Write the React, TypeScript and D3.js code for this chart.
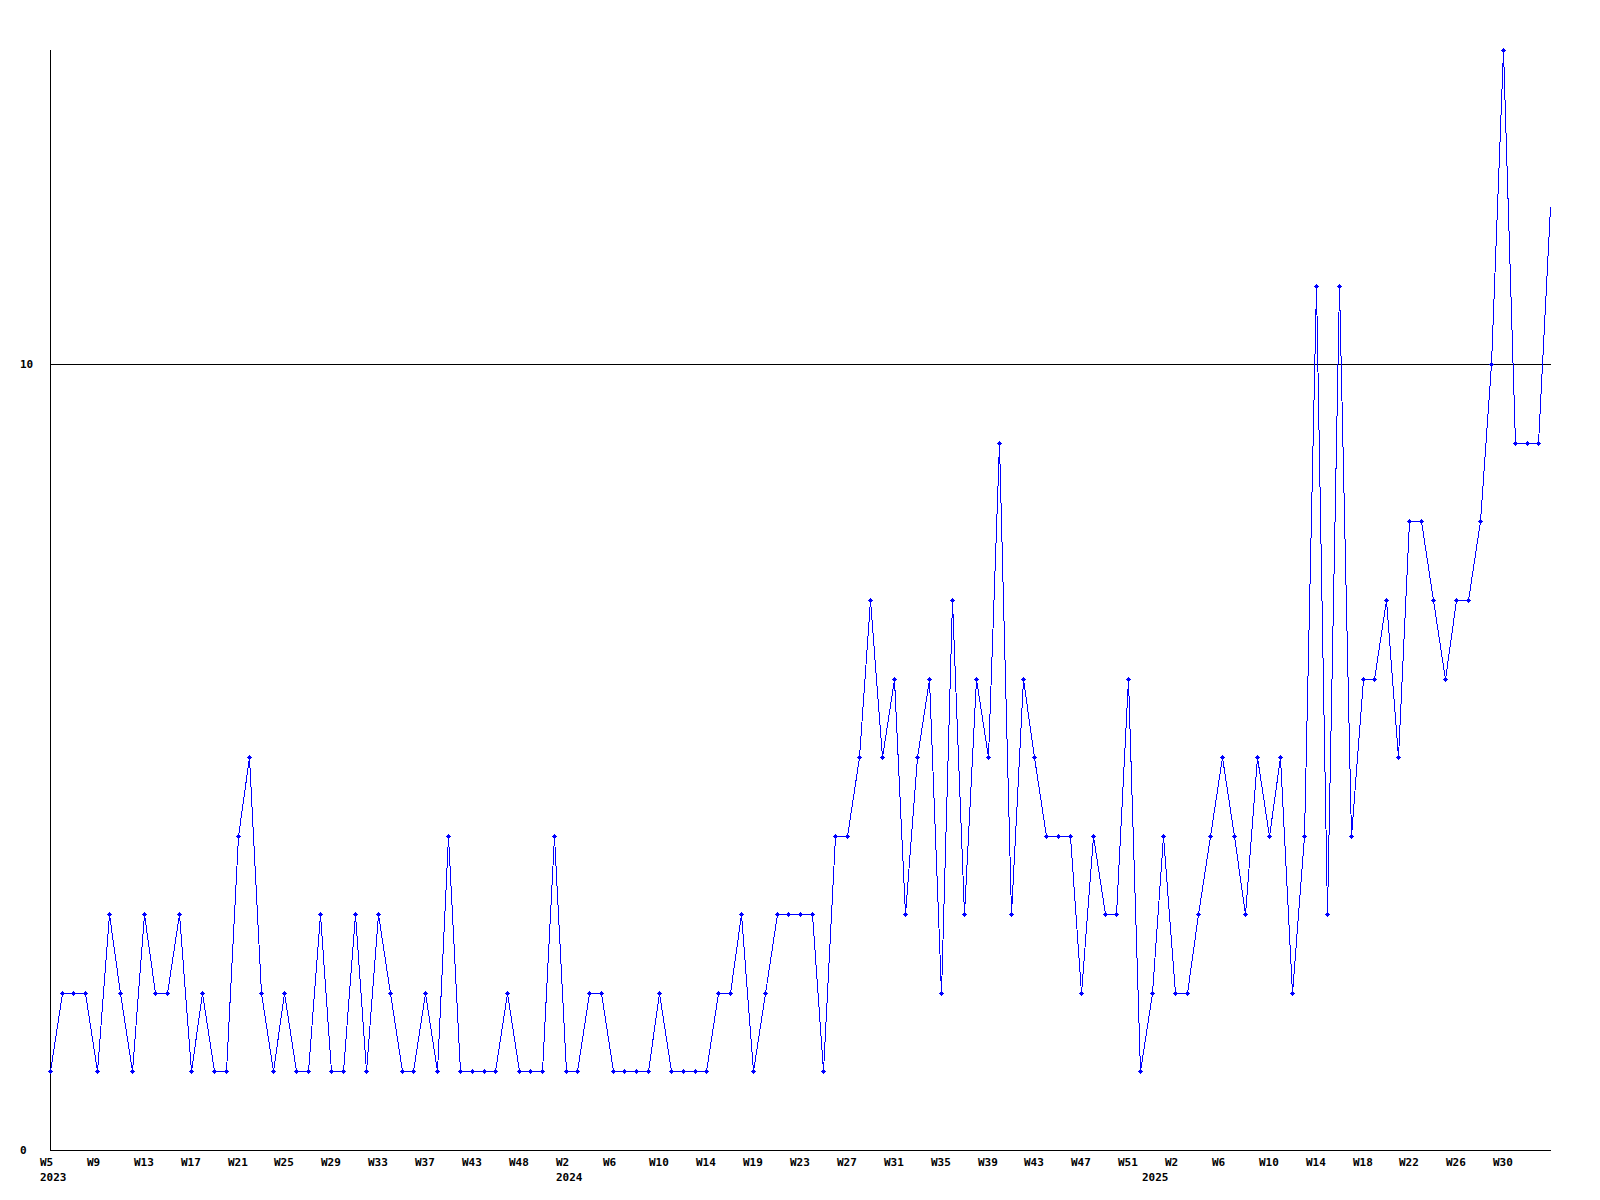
import React from "react";
import * as d3 from "d3";

// Weekly values, W5 2023 .. W34 2025 (129 points)
const values: number[] = [
  1, 2, 2, 2, 1, 3, 2, 1, 3, 2, 2, 3, 1, 2, 1, 1, 4, 5, 2, 1,
  2, 1, 1, 3, 1, 1, 3, 1, 3, 2, 1, 1, 2, 1, 4, 1, 1, 1, 1, 2,
  1, 1, 1, 4, 1, 1, 2, 2, 1, 1, 1, 1, 2, 1, 1, 1, 1, 2, 2, 3,
  1, 2, 3, 3, 3, 3, 1, 4, 4, 5, 7, 5, 6, 3, 5, 6, 2, 7, 3, 6,
  5, 9, 3, 6, 5, 4, 4, 4, 2, 4, 3, 3, 6, 1, 2, 4, 2, 2, 3, 4,
  5, 4, 3, 5, 4, 5, 2, 4, 11, 3, 11, 4, 6, 6, 7, 5, 8, 8, 7, 6,
  7, 7, 8, 10, 14, 9, 9, 9, 12,
];

// Tick labels, one every 4 points
const weekLabels: string[] = [
  "W5", "W9", "W13", "W17", "W21", "W25", "W29", "W33", "W37", "W43", "W48",
  "W2", "W6", "W10", "W14", "W19", "W23", "W27", "W31", "W35", "W39", "W43", "W47", "W51",
  "W2", "W6", "W10", "W14", "W18", "W22", "W26", "W30",
];
const tickStep = 4;

const yearLabels: { index: number; label: string }[] = [
  { index: 0, label: "2023" },
  { index: 44, label: "2024" },
  { index: 94, label: "2025" },
];

const yTicks: number[] = [0, 10];
const yMax = 14;

const W = 1600;
const H = 1200;
const left = 50;
const right = 1550;
const top = 50;
const bottom = 1150;

const font = "'DejaVu Sans Mono', 'Liberation Mono', monospace";

export default function App() {
  const x = d3.scaleLinear().domain([0, values.length - 1]).range([left, right]);
  const y = d3.scaleLinear().domain([0, yMax]).range([bottom, top]);

  const line = d3
    .line<number>()
    .x((_, i) => Math.round(x(i)) + 0.5)
    .y((d) => Math.round(y(d)) + 0.5);

  const px = (i: number) => Math.round(x(i));
  const py = (v: number) => Math.round(y(v));

  return (
    <svg
      width={W}
      height={H}
      style={{ position: "absolute", left: 0, top: 0, background: "#fff" }}
      fontFamily={font}
    >
      <rect x={0} y={0} width={W} height={H} fill="#fff" />
      {/* gridlines */}
      {yTicks
        .filter((t) => t > 0)
        .map((t) => (
          <line
            key={"g" + t}
            x1={left}
            x2={right + 1}
            y1={py(t) + 0.5}
            y2={py(t) + 0.5}
            stroke="#000"
            strokeWidth={1}
            shapeRendering="crispEdges"
          />
        ))}
      {/* axes */}
      <line x1={left + 0.5} x2={left + 0.5} y1={top} y2={bottom + 1} stroke="#000" strokeWidth={1} shapeRendering="crispEdges" />
      <line x1={left} x2={right + 1} y1={bottom + 0.5} y2={bottom + 0.5} stroke="#000" strokeWidth={1} shapeRendering="crispEdges" />

      {/* y labels */}
      {yTicks.map((t) => (
        <text key={"yl" + t} x={20} y={py(t) + 4} fontSize={11} fontWeight="bold" fill="#000">
          {t}
        </text>
      ))}

      {/* x labels */}
      {weekLabels.map((lab, k) => (
        <text
          key={"xl" + k}
          x={px(k * tickStep) - 10}
          y={1166}
          fontSize={11}
          fontWeight="bold"
          fill="#000"
        >
          {lab}
        </text>
      ))}
      {yearLabels.map((yl) => (
        <text key={"yr" + yl.label} x={px(yl.index) - 10} y={1181} fontSize={11} fontWeight="bold" fill="#000">
          {yl.label}
        </text>
      ))}

      {/* data line */}
      <path d={line(values) || ""} fill="none" stroke="#0000ff" strokeWidth={1} shapeRendering="crispEdges" />
      {/* markers (last point has none in the reference) */}
      {values.slice(0, values.length - 1).map((v, i) => (
        <g key={"m" + i} fill="#0000ff" shapeRendering="crispEdges">
          <rect x={px(i) - 2} y={py(v)} width={5} height={1} />
          <rect x={px(i)} y={py(v) - 2} width={1} height={5} />
          <rect x={px(i) - 1} y={py(v) - 1} width={3} height={3} />
        </g>
      ))}
    </svg>
  );
}
